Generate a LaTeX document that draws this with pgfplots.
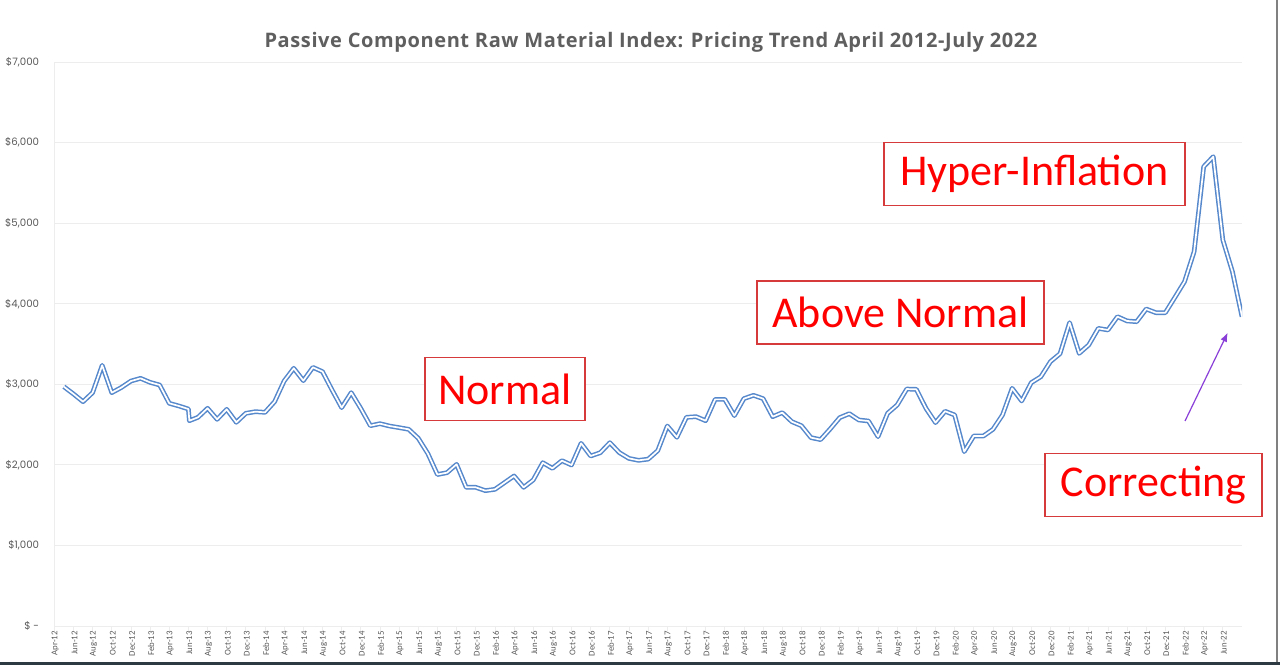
\documentclass[border=0pt]{standalone}
\usepackage{pgfplots}
\pgfplotsset{compat=1.18}
\usetikzlibrary{arrows.meta}
\usepackage{fontspec}
\setmainfont{Carlito}
\newfontfamily\titlefont[LetterSpace=3]{Open Sans}
\newfontfamily\numfont{Poppins}

\definecolor{lineblue}{HTML}{5688CC}
\definecolor{gridgray}{HTML}{EDEDED}
\definecolor{labelgray}{HTML}{595959}
\definecolor{titlegray}{HTML}{5F5F5F}
\definecolor{boxred}{HTML}{D63A3A}
\definecolor{arrowpurple}{HTML}{8A3FD8}
\definecolor{framedark}{HTML}{2E3A42}

\begin{document}
\begin{tikzpicture}
\useasboundingbox (0,0) rectangle (1280bp,665bp);
\fill[white] (0,0) rectangle (1280bp,665bp);

\begin{axis}[
  at={(54.3bp,39bp)}, anchor=south west,
  width=1187.7bp, height=564bp, scale only axis,
  xmin=-1, xmax=123, ymin=0, ymax=7000,
  axis lines=left,
  axis line style={draw=gridgray, line width=0.8bp, -},
  ymajorgrids, grid style={draw=gridgray, line width=0.8bp},
  tick align=outside, major tick length=5bp,
  xtick style={draw=gridgray, line width=0.8bp},
  ytick style={draw=none},
  xtick={-1,1,...,121},
  xticklabels={Apr-12,Jun-12,Aug-12,Oct-12,Dec-12,
    Feb-13,Apr-13,Jun-13,Aug-13,Oct-13,Dec-13,
    Feb-14,Apr-14,Jun-14,Aug-14,Oct-14,Dec-14,
    Feb-15,Apr-15,Jun-15,Aug-15,Oct-15,Dec-15,
    Feb-16,Apr-16,Jun-16,Aug-16,Oct-16,Dec-16,
    Feb-17,Apr-17,Jun-17,Aug-17,Oct-17,Dec-17,
    Feb-18,Apr-18,Jun-18,Aug-18,Oct-18,Dec-18,
    Feb-19,Apr-19,Jun-19,Aug-19,Oct-19,Dec-19,
    Feb-20,Apr-20,Jun-20,Aug-20,Oct-20,Dec-20,
    Feb-21,Apr-21,Jun-21,Aug-21,Oct-21,Dec-21,
    Feb-22,Apr-22,Jun-22},
  xticklabel style={rotate=90, anchor=east, inner sep=0pt, yshift=-1bp,
    font=\fontsize{8.8bp}{10bp}\selectfont, text=labelgray},
  ytick={0,1000,...,7000},
  yticklabels={\$ -,\$1{,}000,\$2{,}000,\$3{,}000,\$4{,}000,\$5{,}000,\$6{,}000,\$7{,}000},
  yticklabel style={anchor=east, inner sep=0pt, xshift=-10bp,
    font=\numfont\fontsize{10.2bp}{11bp}\selectfont, text=labelgray},
]
\addplot[draw=lineblue, line width=1.5bp, double=white, double distance=1.7bp,
  line join=round, mark=none] coordinates {
  (0,2970) (1,2880) (2,2784) (3,2896) (4,3235) (5,2896) (6,2960) (7,3040)
  (8,3074) (9,3024) (10,2991) (11,2764) (12,2731) (13,2693) (13.1,2548)
  (14,2590) (15,2702) (16,2565) (17,2689) (18,2528) (19,2640) (20,2660)
  (21,2652) (22,2784) (23,3041) (24,3198) (25,3045) (26,3210) (27,3157)
  (28,2929) (29,2710) (30,2896) (31,2700) (32,2486) (33,2511) (34,2482)
  (35,2462) (36,2441) (37,2330) (38,2140) (39,1880) (40,1903) (41,2006)
  (42,1721) (43,1721) (44,1680) (45,1696) (46,1779) (47,1862) (48,1721)
  (49,1812) (50,2027) (51,1957) (52,2052) (53,1998) (54,2267) (55,2110)
  (56,2151) (57,2275) (58,2151) (59,2080) (60,2056) (61,2071) (62,2176)
  (63,2482) (64,2342) (65,2590) (66,2598) (67,2548) (68,2813) (69,2813)
  (70,2611) (71,2822) (72,2863) (73,2822) (74,2598) (75,2648) (76,2536)
  (77,2486) (78,2338) (79,2313) (80,2445) (81,2586) (82,2635) (83,2557)
  (84,2544) (85,2350) (86,2640) (87,2743) (88,2941) (89,2937) (90,2702)
  (91,2524) (92,2665) (93,2619) (94,2164) (95,2358) (96,2358) (97,2441)
  (98,2620) (99,2950) (100,2793) (101,3020) (102,3094) (103,3281)
  (104,3380) (105,3765) (106,3384) (107,3488) (108,3694) (109,3674)
  (110,3839) (111,3786) (112,3777) (113,3934) (114,3889) (115,3889)
  (116,4080) (117,4274) (118,4646) (119,5701) (120,5825) (121,4791)
  (122,4398) (123,3839)
};
\end{axis}

% title
\node[font=\titlefont\bfseries\fontsize{20bp}{24bp}\selectfont, text=titlegray]
  at (651bp,623bp) {Passive Component Raw Material Index: Pricing Trend April 2012-July 2022};

% annotation boxes
\tikzset{ann/.style={draw=boxred, line width=1.2bp, fill=white, text=red,
  font=\fontsize{44bp}{48bp}\selectfont, inner sep=0pt, minimum height=63bp}}
\node[ann, minimum width=301bp] at (1034.5bp,491bp) {Hyper-Inflation};
\node[ann, minimum width=287bp] at (900.5bp,352.5bp) {Above Normal};
\node[ann, minimum width=160bp] at (505bp,276bp) {Normal};
\node[ann, minimum width=217bp] at (1153.5bp,180bp) {Correcting};

% arrow
\draw[arrowpurple, line width=1.2bp, -{Latex[length=9bp,width=7bp]}]
  (1185bp,244bp) -- (1227.7bp,332.3bp);

% screenshot frame
\fill[framedark] (0,0) rectangle (1280bp,3bp);
\draw[gray, line width=1.5bp] (1277bp,3bp) -- (1277bp,665bp);
\end{tikzpicture}
\end{document}
